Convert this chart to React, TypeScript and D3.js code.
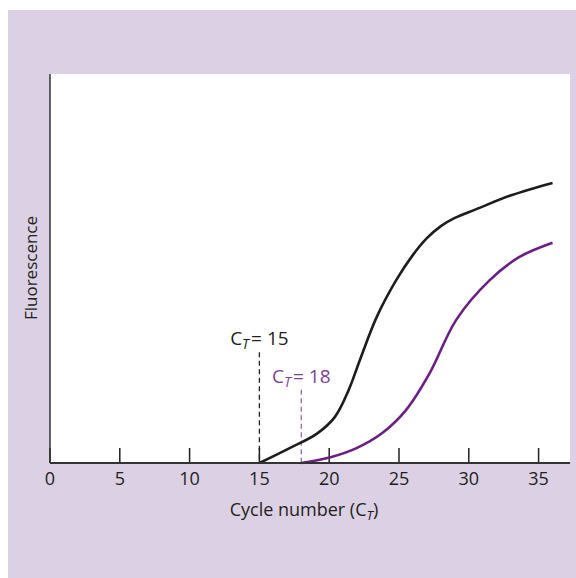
import * as d3 from "d3";
import React from "react";

// cycle numbers / fluorescence
const sampleA: [number, number][] = [
  [15, 0], [17.2, 3.9], [19.1, 7.5], [20.4, 11.8], [21.4, 18.8],
  [22.2, 26.5], [23.4, 37.5], [24.8, 47], [26, 53.5], [27, 57.8], [28, 60.9],
  [29, 63], [30.5, 65.2], [33.1, 68.9], [36, 72],
];
const sampleB: [number, number][] = [
  [18, 0], [20.1, 1.5], [22, 3.9], [23.8, 7.7], [25.5, 13.6], [27.2, 23.1],
  [29.1, 36.8], [31.5, 47], [33.6, 52.9], [36, 56.6],
];
const xTicks = [0, 5, 10, 15, 20, 25, 30, 35];
const thresholds = [
  { ct: 15, top: 28.5, color: "#231f20", dash: "#231f20", label: "15" },
  { ct: 18, top: 18.8, color: "#7b3f97", dash: "#9668ab", label: "18" },
];

const W = 576;
const H = 578;
const font = "'Open Sans', sans-serif";

export default function App() {
  const x = d3.scaleLinear().domain([0, 37.25]).range([50, 570]);
  const y = d3.scaleLinear().domain([0, 100]).range([463, 74]);

  const line = d3
    .line<[number, number]>()
    .x((d) => x(d[0]))
    .y((d) => y(d[1]))
    .curve(d3.curveCatmullRom.alpha(0.5));

  return (
    <svg
      width={W}
      height={H}
      style={{ position: "absolute", left: 0, top: 0 }}
      fontFamily={font}
    >
      <rect x={8} y={10} width={W - 8} height={H - 10} fill="#dcd0e4" />
      <rect x={x(0)} y={y(100)} width={x(37.25) - x(0)} height={y(0) - y(100)} fill="#fff" />

      {/* dashed threshold lines */}
      {thresholds.map((t, i) => (
        <g key={i}>
          <line
            x1={x(t.ct)}
            x2={x(t.ct)}
            y1={y(t.top)}
            y2={y(0)}
            stroke={t.dash}
            strokeWidth={1.3}
            strokeDasharray="5,3.5"
          />
          <text
            x={x(t.ct)}
            y={y(t.top) - 7}
            textAnchor="middle"
            fontSize={19}
            fill={t.color}
          >
            C
            <tspan fontSize={14} fontStyle="italic" dy={4}>T</tspan>
            <tspan dy={-4} dx={2}>= {t.label}</tspan>
          </text>
        </g>
      ))}

      {/* ticks */}
      {xTicks.map((t) => (
        <g key={t}>
          <line x1={x(t)} x2={x(t)} y1={y(0) - 15} y2={y(0)} stroke="#231f20" strokeWidth={1.5} />
          <text x={x(t)} y={485} textAnchor="middle" fontSize={18} fill="#231f20">
            {t}
          </text>
        </g>
      ))}

      <path d={line(sampleB) || ""} fill="none" stroke="#6b1f84" strokeWidth={2.6} />
      <path d={line(sampleA) || ""} fill="none" stroke="#1d1d1b" strokeWidth={2.6} />

      {/* axes */}
      <line x1={x(0)} x2={x(0)} y1={y(100)} y2={y(0)} stroke="#333" strokeWidth={1.5} />
      <line x1={x(0)} x2={x(37.25)} y1={y(0)} y2={y(0)} stroke="#333" strokeWidth={1.8} />

      <text x={304} y={516} textAnchor="middle" fontSize={18} fill="#231f20">
        Cycle number (C
        <tspan fontSize={13} fontStyle="italic" dy={4}>T</tspan>
        <tspan dy={-4}>)</tspan>
      </text>
      <text
        transform="translate(37,268) rotate(-90)"
        textAnchor="middle"
        fontSize={17}
        fill="#231f20"
      >
        Fluorescence
      </text>
    </svg>
  );
}
